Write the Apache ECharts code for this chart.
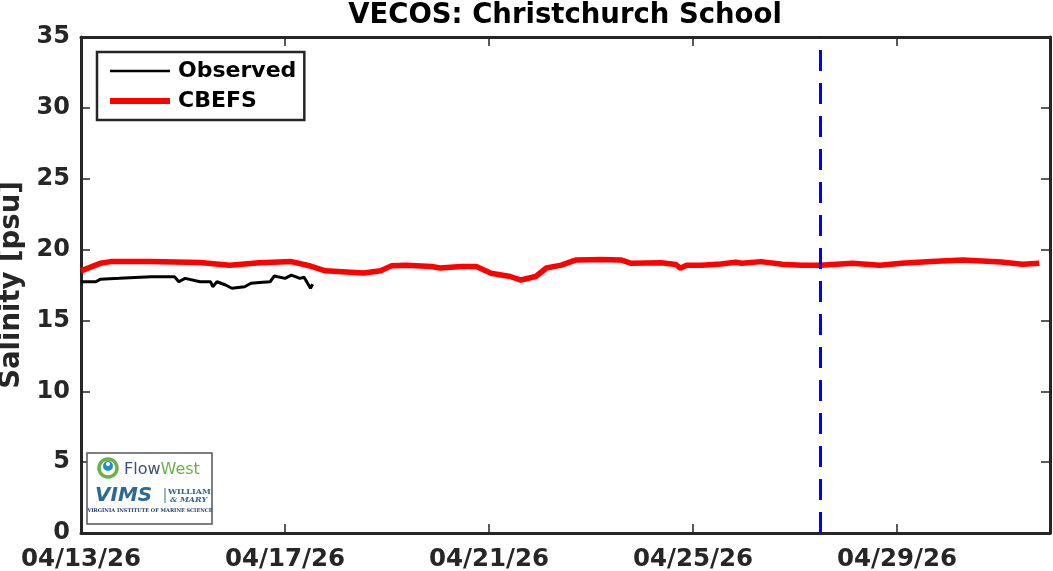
<!DOCTYPE html>
<html><head><meta charset="utf-8">
<script src="https://cdn.jsdelivr.net/npm/echarts@6/dist/echarts.min.js"></script>
<style>html,body{margin:0;padding:0;background:#fff}#c{width:1053px;height:571px}</style>
</head><body><div id="c"></div>
<script>
// hours since 04/13/26 00:00
const xTickLabels = ['04/13/26', '04/17/26', '04/21/26', '04/25/26', '04/29/26'];
const cbefsHours = [0, 9, 14, 33, 56, 70, 84, 99, 108, 115, 133, 141, 146, 153, 165, 169, 179, 186, 193, 202, 207, 214, 219, 226, 233, 245, 254, 259, 273, 280, 282, 285, 292, 301, 308, 311, 320, 330, 339, 348, 363, 376, 386, 400, 415, 424, 433, 443, 451];
const cbefsSalinity = [18.5, 19.03, 19.15, 19.15, 19.08, 18.9, 19.07, 19.15, 18.84, 18.5, 18.35, 18.5, 18.85, 18.9, 18.8, 18.7, 18.8, 18.8, 18.33, 18.1, 17.85, 18.1, 18.7, 18.9, 19.27, 19.3, 19.27, 19.03, 19.07, 18.95, 18.68, 18.9, 18.9, 18.98, 19.1, 19.03, 19.15, 18.96, 18.9, 18.9, 19.03, 18.9, 19.03, 19.15, 19.27, 19.2, 19.12, 18.96, 19.03];
const obsHours = [0, 7, 9, 18, 33, 44, 46, 49, 56, 61, 62, 64, 68, 71, 77, 80, 84, 89, 91, 96, 99, 103, 105, 108, 109];
const obsSalinity = [17.73, 17.73, 17.9, 17.97, 18.09, 18.09, 17.73, 17.97, 17.73, 17.73, 17.38, 17.73, 17.5, 17.27, 17.38, 17.62, 17.67, 17.73, 18.14, 17.97, 18.2, 17.97, 18.05, 17.27, 17.55];
const forecastStartHour = 348; // 04/27/26 12:00
const xMaxHour = 456;          // 05/02/26 00:00
const yTicks = [0, 5, 10, 15, 20, 25, 30, 35];

const FONT = '"DejaVu Sans", sans-serif';
const AX = '#262626';
const pair = (xs, ys) => xs.map((x, i) => [x, ys[i]]);

const chart = echarts.init(document.getElementById('c'), null, {renderer: 'canvas'});
const xBase = {
  type: 'value', min: 0, max: xMaxHour, interval: 96,
  splitLine: {show: false},
  axisLine: {show: true, onZero: false, lineStyle: {color: AX, width: 3}},
  axisTick: {show: true, inside: true, length: 9, lineStyle: {color: AX, width: 1.5}},
};
const yBase = {
  type: 'value', min: yTicks[0], max: yTicks[yTicks.length - 1], interval: 5,
  splitLine: {show: false},
  axisLine: {show: true, onZero: false, lineStyle: {color: AX, width: 3}},
  axisTick: {show: true, inside: true, length: 9, lineStyle: {color: AX, width: 1.5}},
};
chart.setOption({
  animation: false,
  backgroundColor: '#fff',
  title: {
    text: 'VECOS: Christchurch School', left: 565, top: 2, textAlign: 'center', padding: 0,
    textStyle: {fontFamily: FONT, fontSize: 27.5, fontWeight: 'bold', color: '#000', lineHeight: 28}
  },
  grid: {left: 81, right: 3, top: 37, bottom: 38, containLabel: false, outerBoundsMode: 'none'},
  xAxis: [
    Object.assign({}, xBase, {
      position: 'bottom',
      axisLabel: {
        show: true, margin: 14, fontFamily: FONT, fontSize: 24.5, fontWeight: 'bold', color: AX,
        showMaxLabel: false,
        formatter: v => (v % 96 === 0 && xTickLabels[v / 96]) ? xTickLabels[v / 96] : ''
      }
    }),
    Object.assign({}, xBase, {position: 'top', axisLabel: {show: false}})
  ],
  yAxis: [
    Object.assign({}, yBase, {
      position: 'left',
      name: 'Salinity [psu]', nameLocation: 'middle', nameGap: 55,
      nameTextStyle: {fontFamily: FONT, fontSize: 27.5, fontWeight: 'bold', color: AX},
      axisLabel: {show: true, margin: 11, fontFamily: FONT, fontSize: 24, fontWeight: 'bold', color: AX}
    }),
    Object.assign({}, yBase, {position: 'right', axisLabel: {show: false}})
  ],
  legend: {
    show: true, orient: 'vertical', left: 97, top: 52,
    data: [
      {name: 'Observed', lineStyle: {width: 2.5, color: '#000'}},
      {name: 'CBEFS', lineStyle: {width: 6, color: '#ff0000'}}
    ],
    padding: [8, 8, 8, 10], itemWidth: 60, itemHeight: 14, itemGap: 8,
    itemStyle: {opacity: 0},
    borderColor: AX, borderWidth: 2.5, backgroundColor: '#fff',
    textStyle: {fontFamily: FONT, fontSize: 22, fontWeight: 'bold', color: '#000', padding: [0, 0, 0, 3]}
  },
  graphic: [
    {type: 'group', children: [
      {type: 'rect', shape: {x: 87, y: 453, width: 125, height: 71}, style: {fill: '#fff', stroke: '#555', lineWidth: 1.5}, z: 100},
      {type: 'circle', shape: {cx: 108, cy: 468, r: 9}, style: {fill: 'none', stroke: '#6ab04c', lineWidth: 3.5}, z: 101},
      {type: 'circle', shape: {cx: 108, cy: 466, r: 5}, style: {fill: '#1f8fcf'}, z: 102},
      {type: 'circle', shape: {cx: 108, cy: 464, r: 2}, style: {fill: '#fff'}, z: 103},
      {type: 'text', z: 101, style: {x: 124, y: 470, verticalAlign: 'middle', text: '{a|Flow}{b|West}',
        rich: {a: {fontFamily: FONT, fontSize: 16, fill: '#3d4f7d'}, b: {fontFamily: FONT, fontSize: 16, fill: '#6ab04c'}}}},
      {type: 'text', z: 101, style: {x: 95, y: 496, verticalAlign: 'middle', text: 'VIMS',
        font: 'italic bold 20px ' + FONT, fill: '#2b6a93'}},
      {type: 'line', z: 101, shape: {x1: 165, y1: 488, x2: 165, y2: 503}, style: {stroke: '#2b6a93', lineWidth: 1}},
      {type: 'text', z: 101, style: {x: 168, y: 492, verticalAlign: 'middle', text: 'WILLIAM',
        font: 'bold 8px "DejaVu Serif", serif', fill: '#2b6a93'}},
      {type: 'text', z: 101, style: {x: 170, y: 500, verticalAlign: 'middle', text: '& MARY',
        font: 'italic bold 8px "DejaVu Serif", serif', fill: '#2b6a93'}},
      {type: 'text', z: 101, style: {x: 150, y: 511, align: 'center', verticalAlign: 'middle', text: 'VIRGINIA INSTITUTE OF MARINE SCIENCE',
        font: 'bold 5px "DejaVu Serif", serif', fill: '#1f3f6f'}}
    ]}
  ],
  series: [
    {name: 'Observed', type: 'line', data: pair(obsHours, obsSalinity), symbol: 'none', showSymbol: false,
     lineStyle: {color: '#000', width: 3}, itemStyle: {color: '#000'}, z: 3},
    {name: 'CBEFS', type: 'line', data: pair(cbefsHours, cbefsSalinity), symbol: 'none', showSymbol: false,
     lineStyle: {color: '#ff0000', width: 5.5}, itemStyle: {color: '#ff0000'}, z: 4},
    {name: 'Forecast start', type: 'line', data: [[forecastStartHour, yTicks[0]], [forecastStartHour, yTicks[yTicks.length - 1]]],
     symbol: 'none', showSymbol: false, lineStyle: {color: '#0000ff', width: 3, type: [21, 12]}, z: 5}
  ]
});
</script></body></html>
